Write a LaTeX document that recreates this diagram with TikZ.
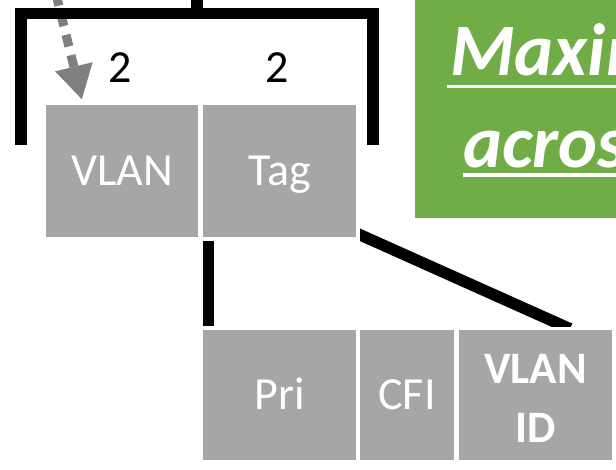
\documentclass[tikz,border=0pt]{standalone}
\usepackage{fontspec}
\setmainfont{Carlito}
\usetikzlibrary{arrows.meta}
\definecolor{boxgray}{HTML}{A6A6A6}
\definecolor{arrgray}{HTML}{7F7F7F}
\definecolor{greenbox}{HTML}{70AD47}
\begin{document}
\begin{tikzpicture}[x=1pt,y=-1pt,
  field/.style={fill=boxgray, draw=none, inner sep=0pt, text=white,
    font=\fontsize{46}{55}\selectfont, text height=29.6pt, text depth=0pt},
  bar/.style={line width=11.5pt, black, line join=miter, line cap=butt},
  sizelabel/.style={anchor=base, inner sep=0pt, font=\fontsize{46}{55}\selectfont},
  greentext/.style={anchor=base west, inner sep=0pt, text=white,
    font=\fontsize{74}{80}\selectfont\bfseries\itshape},
  uline/.style={white, line width=3.5pt}]
\useasboundingbox (0,0) rectangle (616,469);
\clip (0,0) rectangle (616,469);

% green box
\node[fill=greenbox, draw=none, inner sep=0pt, minimum width=205pt, minimum height=228pt,
  anchor=north west] (gbox) at (415,-10) {};
\node[greentext] (t1) at (450,75) {Maximum};
\node[greentext] (t2) at (463,167) {across};
\draw[uline] (447,86.5) -- (620,86.5);
\draw[uline] (463,175) -- (620,175);

% fields
\node[field, minimum width=152pt, minimum height=132pt] (vlan) at (122,171) {VLAN};
\node[field, minimum width=153pt, minimum height=132pt] (tag) at (279.5,171) {Tag};
\node[field, minimum width=153pt, minimum height=130pt] (pri) at (279.5,395) {Pri};
\node[field, minimum width=94pt, minimum height=130pt] (cfi) at (407,395) {CFI};
\node[field, minimum width=153pt, minimum height=130pt] (vid) at (535.5,395) {};
\node[inner sep=0pt, text=white, align=center,
  font=\fontsize{45}{59}\selectfont\bfseries] (vidtext) at (535.5,398) {VLAN\\ID};

% size labels
\node[sizelabel] (s1) at (120,82) {2};
\node[sizelabel] (s2) at (277,82) {2};

% dashed arrow
\coordinate (arrstart) at (56,-6);
\draw[arrgray, line width=9pt, dash pattern=on 12pt off 9pt,
  -{Triangle[length=34pt, width=36pt]}] (arrstart) -- ([xshift=-40pt, yshift=5pt]vlan.north);

% bracket
\coordinate (bl) at (21,145);
\coordinate (br) at (373,145);
\coordinate (stemtop) at (197,-2);
\draw[bar] (bl) -- (21,13.5) -- (373,13.5) -- (br);
\draw[bar] (stemtop) -- (197,13.5);

% tag expansion
\draw[bar] ([xshift=5.5pt, yshift=-4pt]tag.south west) -- ([xshift=5.5pt, yshift=4pt]pri.north west);
\begin{scope}
  \clip (360,0) rectangle (616,326);
  \draw[bar] ([xshift=-2pt, yshift=5pt]tag.south east) -- ([xshift=34.5pt, yshift=1pt]vid.north);
\end{scope}
\end{tikzpicture}
\end{document}
